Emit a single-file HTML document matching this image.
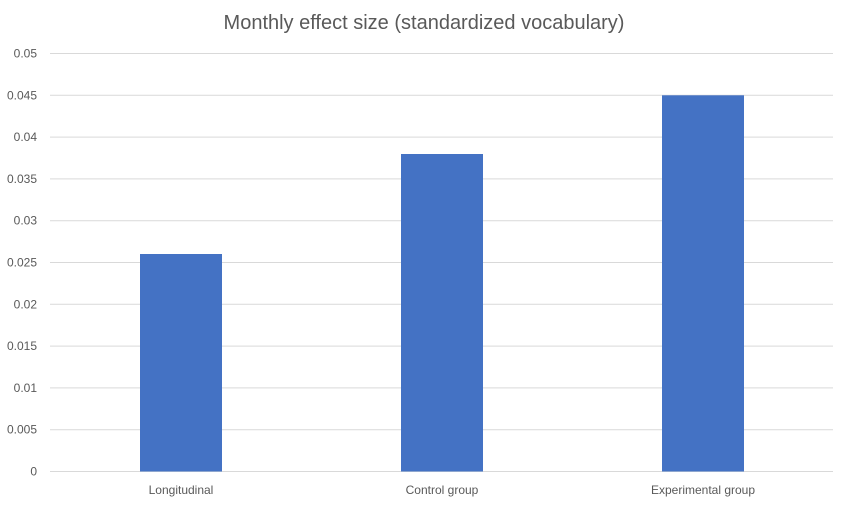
<!DOCTYPE html>
<html><head><meta charset="utf-8"><style>
body{margin:0;background:#fff;}
</style></head><body>
<svg width="849" height="503" xmlns="http://www.w3.org/2000/svg" font-family="'Liberation Sans',sans-serif">
<rect width="849" height="503" fill="#fff"/>
<text x="424" y="29" text-anchor="middle" font-size="20" fill="#595959">Monthly effect size (standardized vocabulary)</text>
<g stroke="#d9d9d9" stroke-width="1">
<line x1="50" x2="833" y1="53.5" y2="53.5"/>
<line x1="50" x2="833" y1="95.3" y2="95.3"/>
<line x1="50" x2="833" y1="137.1" y2="137.1"/>
<line x1="50" x2="833" y1="178.9" y2="178.9"/>
<line x1="50" x2="833" y1="220.7" y2="220.7"/>
<line x1="50" x2="833" y1="262.5" y2="262.5"/>
<line x1="50" x2="833" y1="304.3" y2="304.3"/>
<line x1="50" x2="833" y1="346.1" y2="346.1"/>
<line x1="50" x2="833" y1="387.9" y2="387.9"/>
<line x1="50" x2="833" y1="429.7" y2="429.7"/>
<line x1="50" x2="833" y1="471.5" y2="471.5"/>
</g>
<g font-size="12" fill="#595959" text-anchor="end">
<text x="37" y="57.5">0.05</text>
<text x="37" y="99.3">0.045</text>
<text x="37" y="141.1">0.04</text>
<text x="37" y="182.9">0.035</text>
<text x="37" y="224.7">0.03</text>
<text x="37" y="266.5">0.025</text>
<text x="37" y="308.3">0.02</text>
<text x="37" y="350.1">0.015</text>
<text x="37" y="391.9">0.01</text>
<text x="37" y="433.7">0.005</text>
<text x="37" y="475.5">0</text>
</g>
<g fill="#4472c4">
<rect x="140" y="254" width="82" height="217.5"/>
<rect x="401" y="154" width="82" height="317.5"/>
<rect x="662" y="95.3" width="82" height="376.2"/>
</g>
<g font-size="12" fill="#595959" text-anchor="middle">
<text x="181" y="494">Longitudinal</text>
<text x="442" y="494">Control group</text>
<text x="703" y="494">Experimental group</text>
</g>
</svg>
</body></html>
